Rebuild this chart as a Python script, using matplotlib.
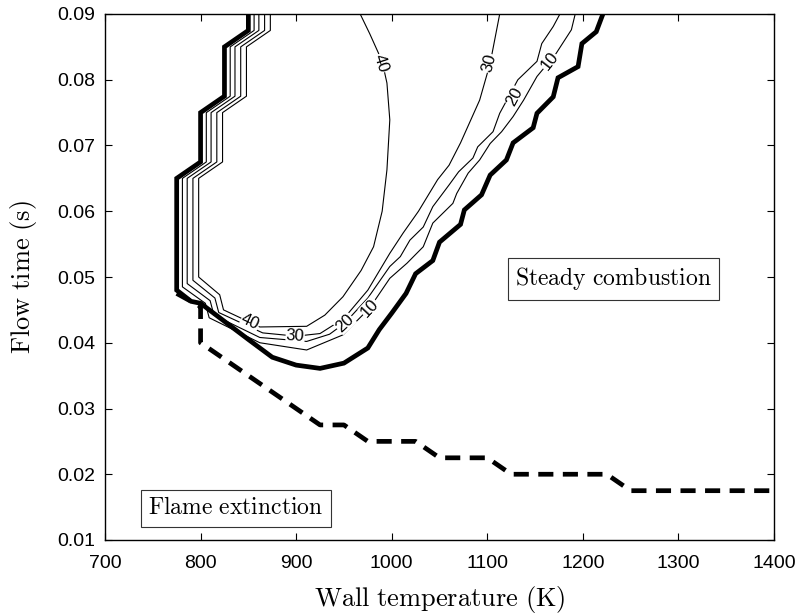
import matplotlib
matplotlib.use('Agg')
import matplotlib.pyplot as plt

plt.rcParams['mathtext.fontset'] = 'cm'
plt.rcParams['font.family'] = ['Liberation Sans', 'DejaVu Sans']

# ---------------- data ----------------
# thick solid boundary (extinction limit of steady combustion)
T_thick = [850, 850, 825, 825, 800, 800, 775, 775, 790, 800, 850, 875, 900, 925, 950, 975, 987,
           1000, 1015, 1025, 1043, 1050, 1072, 1076, 1094, 1103, 1120, 1127, 1148, 1152, 1169,
           1174, 1195, 1199, 1214, 1221]
t_thick = [0.09, 0.0875, 0.085, 0.0775, 0.075, 0.0675, 0.065, 0.048, 0.0463, 0.046, 0.0405, 0.0378,
           0.0366, 0.0361, 0.0369, 0.0392, 0.042, 0.0445, 0.0475, 0.0505, 0.0525, 0.0553, 0.058,
           0.0602, 0.0625, 0.0655, 0.0678, 0.0704, 0.0727, 0.0749, 0.0774, 0.0803, 0.082, 0.0855,
           0.0873, 0.09]

# contour level 10
T_c10 = [856, 856, 831, 831, 806, 806, 781, 781, 805, 809, 862, 911, 949, 977, 998, 1016, 1033,
         1043, 1064, 1068, 1080, 1092, 1103, 1115, 1127, 1138, 1152, 1172, 1188, 1192]
t_c10 = [0.09, 0.0875, 0.085, 0.0775, 0.075, 0.0675, 0.065, 0.0485, 0.046, 0.0438, 0.04, 0.0389,
         0.0412, 0.0453, 0.0498, 0.0521, 0.0546, 0.0582, 0.0612, 0.0627, 0.0658, 0.0678, 0.0703,
         0.0721, 0.0744, 0.0769, 0.0805, 0.084, 0.0876, 0.09]

# contour level 20
T_c20 = [861, 861, 836, 836, 811, 811, 786, 786, 810, 814, 862, 911, 935, 951, 975, 998, 1009, 1019,
         1033, 1043, 1060, 1070, 1085, 1090, 1106, 1113, 1132, 1152, 1157, 1169, 1176]
t_c20 = [0.09, 0.0875, 0.085, 0.0775, 0.075, 0.0675, 0.065, 0.049, 0.0464, 0.0442, 0.0408, 0.0402,
         0.0413, 0.043, 0.0468, 0.0516, 0.0531, 0.0556, 0.0576, 0.0607, 0.064, 0.066, 0.0681,
         0.0698, 0.0721, 0.0749, 0.08, 0.0828, 0.0855, 0.0881, 0.09]

# contour level 30
T_c30 = [867, 867, 842, 842, 817, 817, 792, 792, 815, 819, 865, 900, 925, 950, 975, 998, 1012,
         1028, 1048, 1060, 1072, 1092, 1103, 1113]
t_c30 = [0.09, 0.0875, 0.085, 0.0775, 0.075, 0.0675, 0.065, 0.0495, 0.0468, 0.0446, 0.0415, 0.041,
         0.0414, 0.0437, 0.048, 0.0536, 0.0567, 0.06, 0.0648, 0.067, 0.0704, 0.0769, 0.0825, 0.09]

# contour level 40
T_c40 = [873, 873, 848, 848, 823, 823, 798, 798, 820, 824, 862, 911, 930, 949, 968, 981, 990, 995,
         998, 995, 990, 977, 967]
t_c40 = [0.09, 0.0875, 0.085, 0.0775, 0.075, 0.0675, 0.065, 0.05, 0.0473, 0.045, 0.0424, 0.0425,
         0.0442, 0.047, 0.051, 0.0546, 0.06, 0.0663, 0.0739, 0.0795, 0.0828, 0.087, 0.09]

# dashed flame-extinction boundary
T_ext = [775, 800, 800, 900, 925, 950, 975, 1025, 1050, 1100, 1125, 1225, 1250, 1400]
t_ext = [0.0475, 0.0455, 0.04, 0.03, 0.0275, 0.0275, 0.025, 0.025, 0.0225, 0.0225, 0.02, 0.02,
         0.0175, 0.0175]

# contour labels: text, T, t, rotation
lab_text = ['40', '30', '20', '10', '40', '30', '20', '10']
lab_T = [852, 899, 951, 977, 989, 1102, 1128, 1165]
lab_t = [0.0432, 0.0410, 0.0430, 0.0453, 0.0825, 0.0825, 0.0775, 0.0828]
lab_rot = [-25, -3, 43, 47, -72, 76, 62, 52]

x_ticks = [700, 800, 900, 1000, 1100, 1200, 1300, 1400]
y_ticks = [0.01, 0.02, 0.03, 0.04, 0.05, 0.06, 0.07, 0.08, 0.09]

# ---------------- figure ----------------
fig = plt.figure(figsize=(7.98, 6.15), dpi=100)
ax = fig.add_axes([105 / 798, 75 / 615, 669 / 798, 526 / 615])

thin = dict(color='black', lw=0.8, zorder=2)
for T, t in [(T_c10, t_c10), (T_c20, t_c20), (T_c30, t_c30), (T_c40, t_c40)]:
    ax.plot(T, t, **thin)

ax.plot(T_thick, t_thick, color='black', lw=3.4, zorder=4, solid_joinstyle='miter')
ax.plot(T_ext, t_ext, color='black', lw=3.4, zorder=4, linestyle=(0, (3.2, 2.0)),
        dash_capstyle='butt')

for s, x, y, r in zip(lab_text, lab_T, lab_t, lab_rot):
    ax.text(x, y, s, rotation=r, ha='center', va='center', fontsize=12,
            rotation_mode='anchor', zorder=3,
            bbox=dict(facecolor='white', edgecolor='none', pad=0.2))

box = dict(facecolor='white', edgecolor='#333333', lw=0.8, boxstyle='square,pad=0.3')
ax.text(1232, 0.0497, r'$\mathrm{Steady\ combustion}$', ha='center', va='center',
        fontsize=17, bbox=box, zorder=5)
ax.text(837, 0.0148, r'$\mathrm{Flame\ extinction}$', ha='center', va='center',
        fontsize=17, bbox=box, zorder=5)

ax.set_xlim(700, 1400)
ax.set_ylim(0.01, 0.09)
ax.set_xticks(x_ticks)
ax.set_yticks(y_ticks)
ax.set_xticklabels([str(v) for v in x_ticks])
ax.set_yticklabels(['%.2f' % v for v in y_ticks])
ax.tick_params(direction='in', length=5, width=0.8, top=True, right=True, labelsize=14)
ax.tick_params(axis='x', pad=10.5)
ax.tick_params(axis='y', pad=7)
for sp in ax.spines.values():
    sp.set_linewidth(1.0)

ax.set_xlabel(r'$\mathrm{Wall\ temperature\ (K)}$', fontsize=19, labelpad=9)
ax.set_ylabel(r'$\mathrm{Flow\ time\ (s)}$', fontsize=19, labelpad=13)

fig.savefig('out.png', dpi=100)
